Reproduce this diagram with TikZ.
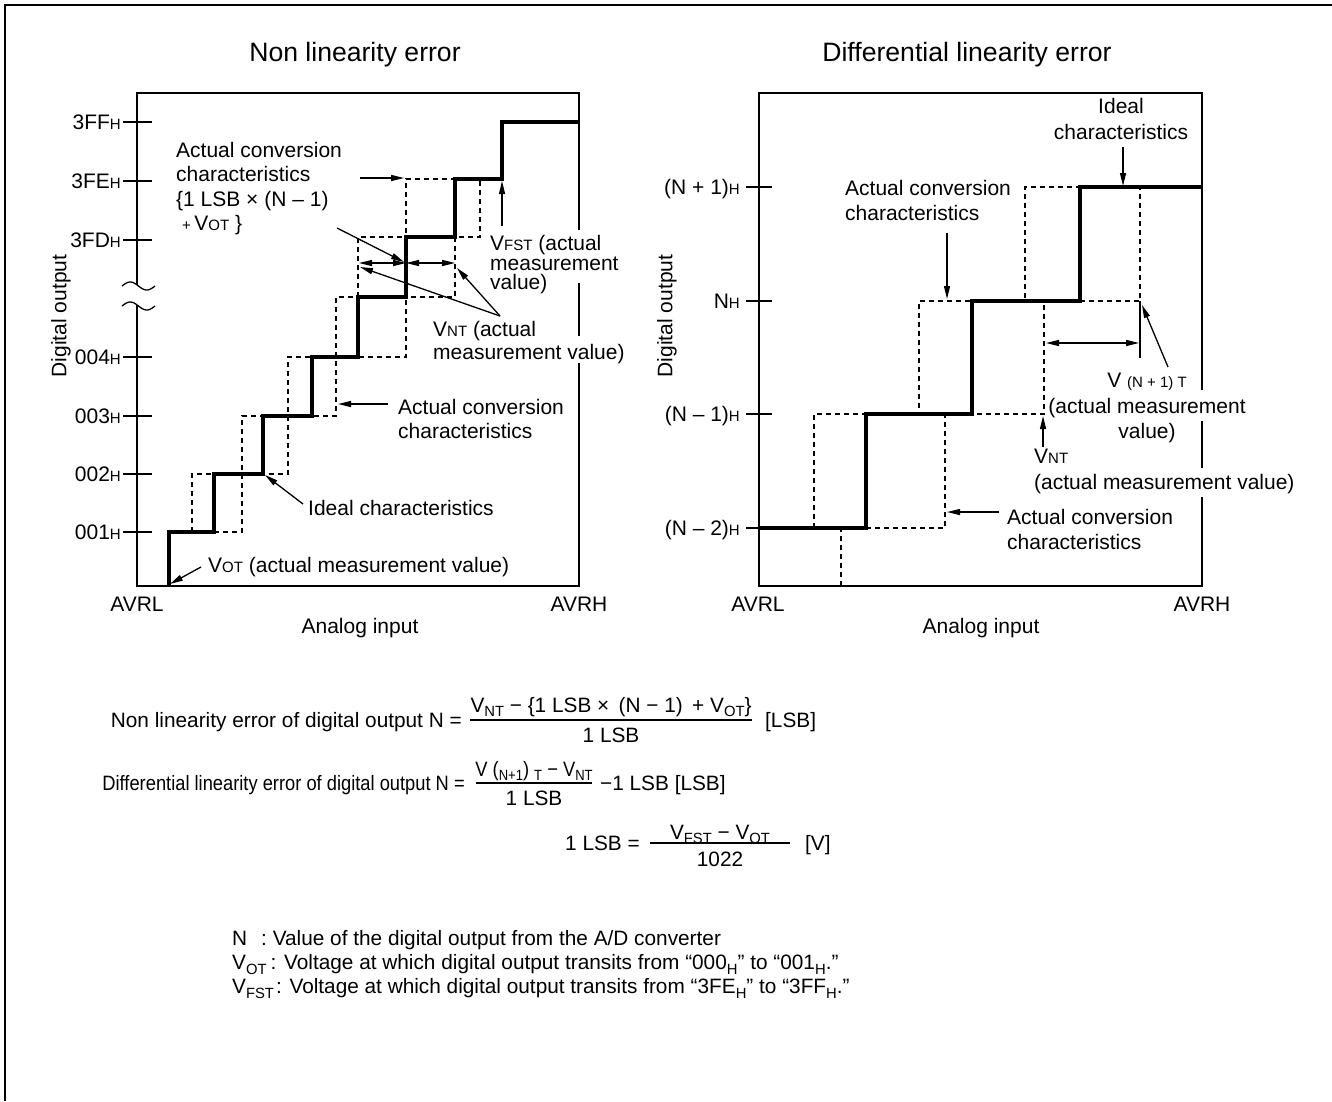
\documentclass[tikz,border=0pt]{standalone}
\usepackage{fontspec}
\usepackage{graphicx}
\setmainfont{Liberation Sans}
\usetikzlibrary{arrows.meta}

% font sizes (1pt in the picture = 1 output pixel)
\newcommand\fL{\fontsize{21}{24}\selectfont}    % graph labels
\newcommand\fS{\fontsize{15}{17}\selectfont}    % small capitals on the baseline
\newcommand\fT{\fontsize{26.6}{30}\selectfont}  % titles
\newcommand\fF{\fontsize{20.8}{24}\selectfont}  % formulas and legend
\newcommand\fFs{\fontsize{14.8}{16}\selectfont} % their subscripts
\newcommand\smh[1]{{\fS #1}}
\newcommand\lsub[1]{\raisebox{-0.22em}{\fFs #1}}
\newcommand\narrow[1]{\scalebox{0.88}[1]{#1}}

\tikzset{
  frame/.style={line width=2.6pt},
  stair/.style={line width=3.2pt, line join=miter},
  fine/.style={line width=1.3pt},
  dsh/.style={line width=1.2pt, dash pattern=on 5pt off 4pt},
  arr/.style={fine, -{Triangle[length=13pt,width=6pt]}},
  darr/.style={fine, {Triangle[length=13pt,width=6pt]}-{Triangle[length=13pt,width=6pt]}},
  lbl/.style={inner sep=0pt, font=\fL, anchor=base west},
  lblc/.style={inner sep=0pt, font=\fL, anchor=base},
  ticklbl/.style={inner sep=0pt, font=\fL, anchor=base east},
  big/.style={inner sep=0pt, font=\fT, anchor=base},
  form/.style={inner sep=0pt, font=\fF, anchor=base west},
  bar/.style={line width=1.8pt},
}

\begin{document}
\begin{tikzpicture}[x=1pt,y=-1pt]
\useasboundingbox (0,0) rectangle (1332,1101);

% outer frame
\draw[frame] (5,1101) -- (5,5) -- (1332,5);

% titles
\node[big] (tl) at (355,61.5) {Non linearity error};
\node[big] (tr) at (967,61.5) {Differential linearity error};

% ================= left graph =================
\draw[frame] (137,285) -- (137,93) -- (579,93) -- (579,586) -- (137,586) -- (137,305);
\draw[fine] plot[domain=0:1,samples=30] ({122+33*\x},{286-4*sin(360*\x)});
\draw[fine] plot[domain=0:1,samples=30] ({122+33*\x},{306-4*sin(360*\x)});
\foreach \yy in {122,181,240,357,416,474,532} \draw[fine] (123,\yy) -- (152,\yy);

\node[ticklbl] (l3ff) at (121,129.5) {3FF\smh{H}};
\node[ticklbl] (l3fe) at (121,188.5) {3FE\smh{H}};
\node[ticklbl] (l3fd) at (121,247.5) {3FD\smh{H}};
\node[ticklbl] (l004) at (121,364.5) {004\smh{H}};
\node[ticklbl] (l003) at (121,423.5) {003\smh{H}};
\node[ticklbl] (l002) at (121,481.5) {002\smh{H}};
\node[ticklbl] (l001) at (121,539.5) {001\smh{H}};

% actual conversion characteristics
\draw[dsh] (192,532) -- (192,474) -- (288,474) -- (288,357) -- (406,357) -- (406,179) -- (455,179);
\draw[dsh] (214,532) -- (242,532) -- (242,416) -- (336,416) -- (336,297) -- (455,297) -- (455,237) -- (480,237) -- (480,179);
\draw[dsh] (358,297) -- (358,237) -- (406,237);
% ideal characteristics
\draw[stair] (169,586) -- (169,532) -- (214,532) -- (214,474) -- (263,474) -- (263,416) -- (312,416) -- (312,357) -- (358,357) -- (358,297) -- (406,297) -- (406,237) -- (455,237) -- (455,179) -- (502,179) -- (502,122) -- (579,122);

% openings in the right edge behind the labels
\fill[white] (573,230) rectangle (585,283);
\fill[white] (573,336) rectangle (585,363);

% labels
\node[lbl] (ac1) at (176,157) {Actual conversion};
\node[lbl] (ac2) at (176,181.5) {characteristics};
\node[lbl] (ac3) at (176,206) {\{1 LSB × (N – 1)};
\node[lbl] (ac4) at (182,230.5) {\smh{+}\,V\smh{OT} \}};
\node[lbl] (vf1) at (490,250.5) {V\smh{FST} (actual};
\node[lbl] (vf2) at (490,270.5) {measurement};
\node[lbl] (vf3) at (490,289.5) {value)};
\node[lbl] (vn1) at (433,336.5) {V\smh{NT} (actual};
\node[lbl] (vn2) at (433,359.5) {measurement value)};
\node[lbl] (ad1) at (398,414.5) {Actual conversion};
\node[lbl] (ad2) at (398,438.5) {characteristics};
\node[lbl] (idl) at (308,515.5) {Ideal characteristics};
\node[lbl] (vol) at (208,572.5) {V\smh{OT} (actual measurement value)};
\node[lblc] (avrl) at (137,611.5) {AVRL};
\node[lblc] (avrh) at (579,611.5) {AVRH};
\node[lblc] (ainl) at (360,633.5) {Analog input};
\node[inner sep=0pt, font=\fL, rotate=90] (doutl) at (61,316) {Digital output};

% arrows
\coordinate (a1s) at (360,178);  \coordinate (a1e) at (404,178);
\coordinate (a2s) at (337,228);  \coordinate (a2e) at (404,262);
\coordinate (d1) at (359,263);   \coordinate (d2) at (406,263);  \coordinate (d3) at (455,263);
\coordinate (vnt) at (500,316);  \coordinate (vnta) at (360,267); \coordinate (vntb) at (457,268);
\coordinate (vfs) at (502,226);  \coordinate (vfe) at (502,181);
\coordinate (a8s) at (388,404);  \coordinate (a8e) at (338,404);
\coordinate (a9s) at (303,504);  \coordinate (a9e) at (265,475);
\coordinate (a10s) at (201,567); \coordinate (a10e) at (170,584);
\draw[arr] (a1s) -- (a1e);
\draw[arr] (a2s) -- (a2e);
\draw[darr] (d1) -- (d2);
\draw[darr] (d2) -- (d3);
\draw[arr] (vnt) -- (vnta);
\draw[arr] (vnt) -- (vntb);
\draw[arr] (vfs) -- (vfe);
\draw[arr] (a8s) -- (a8e);
\draw[arr] (a9s) -- (a9e);
\draw[arr] (a10s) -- (a10e);

% ================= right graph =================
\draw[frame] (759,93) rectangle (1202,586);
\foreach \yy in {187,301,414,528} \draw[fine] (746,\yy) -- (772,\yy);
\node[ticklbl] (rnp1) at (740,194.5) {(N + 1)\smh{H}};
\node[ticklbl] (rn0)  at (740,308.5) {N\smh{H}};
\node[ticklbl] (rnm1) at (740,421.5) {(N – 1)\smh{H}};
\node[ticklbl] (rnm2) at (740,535.5) {(N – 2)\smh{H}};

\draw[dsh] (841,586) -- (841,528);
\draw[dsh] (814,528) -- (814,414) -- (919,414) -- (919,301) -- (1025,301) -- (1025,187) -- (1080,187);
\draw[dsh] (866,528) -- (945,528) -- (945,414) -- (1044,414) -- (1044,301) -- (1140,301) -- (1140,187);
\draw[stair] (759,528) -- (866,528) -- (866,414) -- (972,414) -- (972,301) -- (1080,301) -- (1080,187) -- (1202,187);

\fill[white] (1196,390) rectangle (1208,421);
\fill[white] (1196,468) rectangle (1208,497);

\node[lblc] (ri1) at (1121,113.5) {Ideal};
\node[lblc] (ri2) at (1121,139.5) {characteristics};
\node[lbl] (ru1) at (845,195.5) {Actual conversion};
\node[lbl] (ru2) at (845,220.5) {characteristics};
\node[lblc] (vp1) at (1147,387.5) {V \smh{(N + 1) T}};
\node[lblc] (vp2) at (1147,413.5) {(actual measurement};
\node[lblc] (vp3) at (1147,438.5) {value)};
\node[lbl] (rn1) at (1034,463.5) {V\smh{NT}};
\node[lbl] (rn2) at (1034,489.5) {(actual measurement value)};
\node[lbl] (rl1) at (1007,524.5) {Actual conversion};
\node[lbl] (rl2) at (1007,549.5) {characteristics};
\node[lblc] (avrl2) at (758,611.5) {AVRL};
\node[lblc] (avrh2) at (1202,611.5) {AVRH};
\node[lblc] (ainr) at (981,633.5) {Analog input};
\node[inner sep=0pt, font=\fL, rotate=90] (doutr) at (667,316) {Digital output};

\coordinate (r1s) at (1123,147);  \coordinate (r1e) at (1123,186);
\coordinate (r2s) at (947,233);   \coordinate (r2e) at (947,299);
\coordinate (r3a) at (1046,343);  \coordinate (r3b) at (1139,343);
\coordinate (r4a) at (1140,301);  \coordinate (r4b) at (1140,358);
\coordinate (r5s) at (1168,367);  \coordinate (r5e) at (1142,305);
\coordinate (r6s) at (1043,447);  \coordinate (r6e) at (1043,416);
\coordinate (r7s) at (999,512);   \coordinate (r7e) at (947,512);
\draw[arr] (r1s) -- (r1e);
\draw[arr] (r2s) -- (r2e);
\draw[darr] (r3a) -- (r3b);
\draw[fine] (r4a) -- (r4b);
\draw[arr] (r5s) -- (r5e);
\draw[arr] (r6s) -- (r6e);
\draw[arr] (r7s) -- (r7e);

% ================= formulas =================
\node[form, anchor=base east] (f1l) at (462,727) {Non linearity error of digital output N =};
\node[form, anchor=base] (f1n) at (611,712) {V\lsub{NT} − \{1 LSB ×\hspace{0.45em}(N − 1)\hspace{0.45em}+ V\lsub{OT}\}};
\draw[bar] (470,720) -- (752,720);
\node[form, anchor=base] (f1d) at (611,742) {1 LSB};
\node[form] (f1u) at (765,727) {[LSB]};

\node[form, anchor=base east] (f2l) at (465,790) {\narrow{Differential linearity error of digital output N =}};
\node[form, anchor=base] (f2n) at (534,776) {\narrow{V (\lsub{N+1}) \lsub{T} − V\lsub{NT}}};
\draw[bar] (476,783) -- (592,783);
\node[form, anchor=base] (f2d) at (534,805) {1 LSB};
\node[form] (f2u) at (600,790) {−1 LSB [LSB]};

\node[form, anchor=base east] (f3l) at (640,850) {1 LSB =};
\node[form, anchor=base] (f3n) at (720,839) {V\lsub{FST} − V\lsub{OT}};
\draw[bar] (650,843) -- (790,843);
\node[form, anchor=base] (f3d) at (720,866) {1022};
\node[form] (f3u) at (805,850) {[V]};

% ================= legend =================
\node[form] (g1) at (232,945.5) {N\hspace{14pt}: Value of the digital output from the A/D converter};
\node[form] (g2) at (232,969.5) {V\lsub{OT}\hspace{4pt}: Voltage at which digital output transits from “000\lsub{H}” to “001\lsub{H}.”};
\node[form] (g3) at (232,993.5) {V\lsub{FST}\hspace{2pt}: Voltage at which digital output transits from “3FE\lsub{H}” to “3FF\lsub{H}.”};
\end{tikzpicture}
\end{document}
